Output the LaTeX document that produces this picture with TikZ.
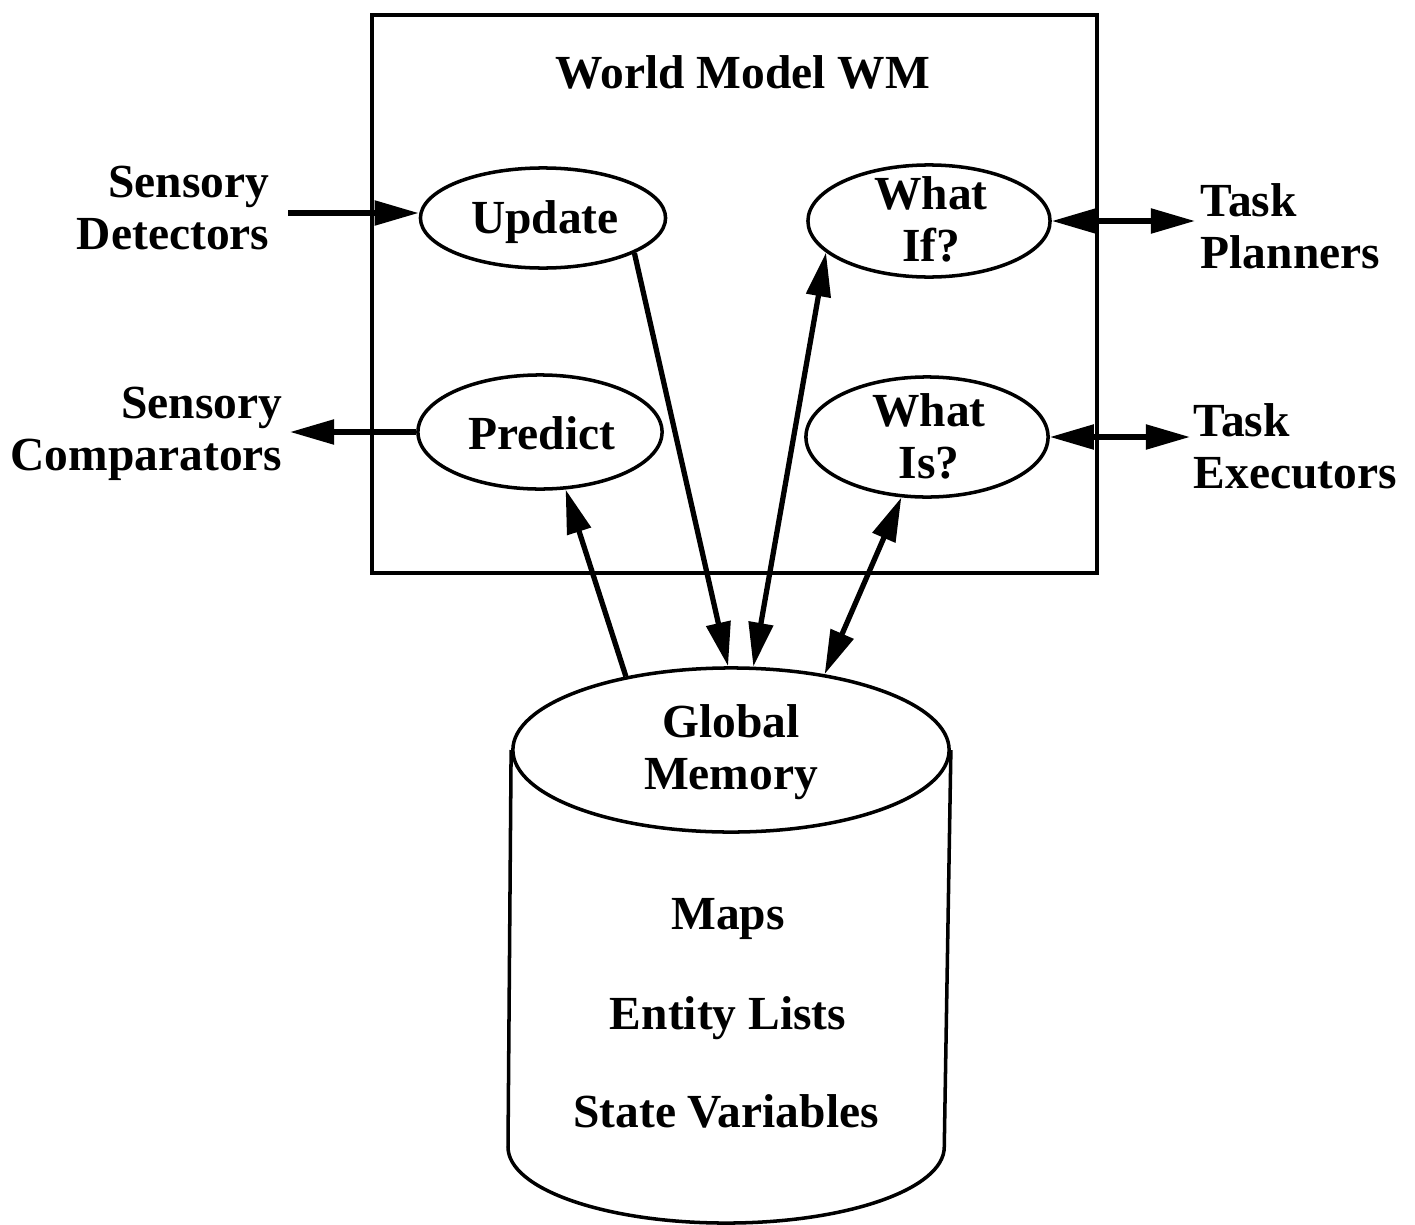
\documentclass[tikz,border=0pt]{standalone}
\usepackage{fontspec}
\setmainfont{Liberation Serif}
\usetikzlibrary{shapes.geometric,arrows.meta}
\begin{document}
\begin{tikzpicture}[x=0.01cm,y=-0.01cm,
  lbl/.style={font=\fontsize{13.5}{14.8}\selectfont\bfseries, inner sep=0pt},
  proc/.style={draw, ellipse, line width=1pt, inner sep=0pt},
  link/.style={line width=1.5pt, -{Triangle[length=0.44cm,width=0.24cm]}},
  both/.style={line width=1.5pt, {Triangle[length=0.44cm,width=0.24cm]}-{Triangle[length=0.44cm,width=0.24cm]}},
]
\useasboundingbox (0,0) rectangle (1415,1224);

% World model frame
\draw[line width=0.9pt] (372,15) rectangle (1097,573);
\node[lbl] (title) at (743,72) {World Model WM};

% Functions inside the world model
\node[proc, minimum width=2.45cm, minimum height=1.0cm]  (upd) at (543,218) {};
\node[proc, minimum width=2.44cm, minimum height=1.14cm] (pre) at (540,432) {};
\node[proc, minimum width=2.42cm, minimum height=1.12cm] (wif) at (929,221) {};
\node[proc, minimum width=2.42cm, minimum height=1.2cm]  (wis) at (927,437) {};
\node[lbl] (updT) at (545,222) {Update};
\node[lbl] (preT) at (542,433) {Predict};
\node[lbl, align=center] (wifT) at (931,219) {What\\If?};
\node[lbl, align=center] (wisT) at (929,436) {What\\Is?};

% External modules
\node[lbl, align=right, anchor=east] (sd) at (270,208) {Sensory\\Detectors};
\node[lbl, align=right, anchor=east] (sc) at (283,434) {Sensory\\Comparators};
\node[lbl, align=left, anchor=west] (tp) at (1200,226) {Task\\Planners};
\node[lbl, align=left, anchor=west] (te) at (1193,446) {Task\\Executors};

% Global memory cylinder
\node[proc, minimum width=4.36cm, minimum height=1.64cm] (gm) at (731,750) {};
\node[lbl, align=center] (gmT) at (731,752) {Global\\Memory};
\draw[line width=1pt] (gm.west) -- (508,1147)
  arc[start angle=180, end angle=360, x radius=2.18cm, y radius=0.76cm] -- (gm.east);
\node[lbl] (maps) at (728,919) {Maps};
\node[lbl] (ents) at (728,1018) {Entity Lists};
\node[lbl] (vars) at (726,1111) {State Variables};

% Horizontal connectors
\coordinate (sdo) at ([shift={(0.18cm,-0.05cm)}]sd.east);
\draw[link] (sdo) -- (sdo -| upd.west);
\draw[link] (pre.west) -- ([xshift=0.07cm]sc.east |- pre.west);
\draw[both] (wif.east) -- ([xshift=-0.05cm]tp.west |- wif.east);
\draw[both] (wis.east) -- ([xshift=-0.03cm]te.west |- wis.east);

% Connectors to global memory
\draw[link] (upd.-21) -- (gm.92.6);
\draw[both] (gm.75.8) -- (wif.197.4);
\draw[link] (gm.145.5) -- (pre.-66.7);
\draw[both] (gm.39.4) -- (wis.-113.4);
\end{tikzpicture}
\end{document}
